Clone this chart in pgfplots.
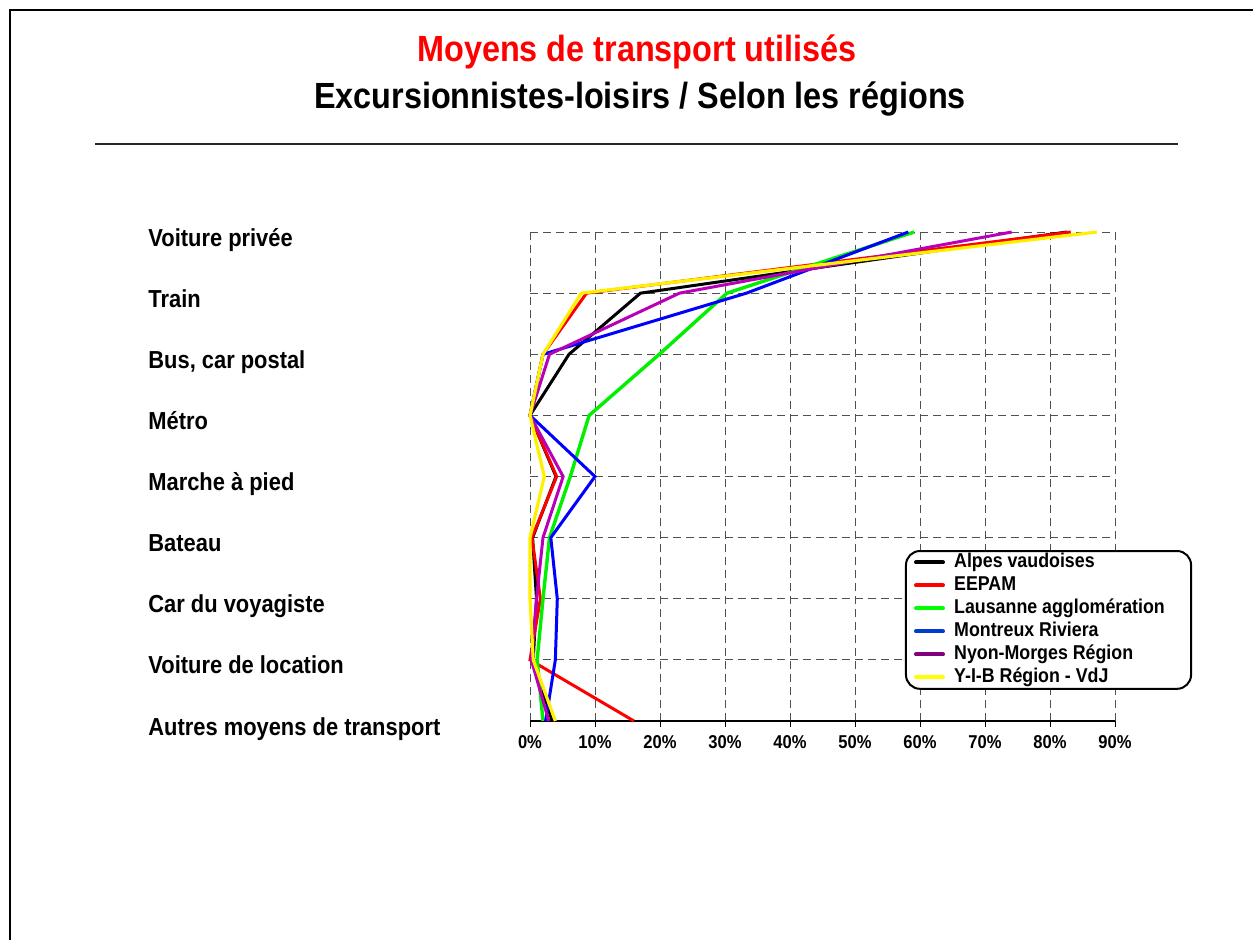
\documentclass[border=0pt]{standalone}
\usepackage{fontspec}
\setmainfont{Liberation Sans}[FakeStretch=0.89]
\usepackage{pgfplots}
\pgfplotsset{compat=1.18}
\usepackage{pgfplotstable}
\definecolor{cgreen}{RGB}{0,240,0}
\definecolor{cblue}{RGB}{0,0,255}
\definecolor{cpurple}{RGB}{185,0,185}
\definecolor{cyellow}{RGB}{255,240,0}
\definecolor{lgreen}{RGB}{0,255,0}
\definecolor{lblue}{RGB}{0,60,210}
\definecolor{lpurple}{RGB}{128,0,128}
\definecolor{lyellow}{RGB}{255,255,0}
\definecolor{gridgray}{RGB}{80,80,80}

% y: 8 = Voiture privee (top) ... 0 = Autres moyens de transport (bottom)
\pgfplotstableread{
y alpes eepam lausanne montreux nyon yib
8 82.6 83.2 59.1 58.2 74.1 87.2
7 17.0 8.7 30.3 33.3 23.0 7.9
6 6.0 2.0 19.9 2.0 3.0 2.0
5 0.0 0.0 9.1 0.0 0.0 0.0
4 4.0 4.1 6.2 10.0 5.1 2.2
3 0.4 0.3 3.0 3.2 2.0 0.0
2 1.0 1.6 2.0 4.2 1.0 0.0
1 0.5 0.0 1.1 3.9 0.2 0.5
0 3.4 16.0 2.0 2.4 2.9 3.9
}\data

\begin{document}
\begin{tikzpicture}[x=0.5pt,y=-0.5pt]
\useasboundingbox (0,0) rectangle (1253,939);
\fill[white] (0,0) rectangle (1253,939);
\draw[line width=1.25pt] (10,945) -- (10,10) -- (1260,10);
\draw[line width=0.75pt, black!85] (95,144) -- (1178,144);
\node[anchor=base, text=red, inner sep=0pt, font=\bfseries\fontsize{18.2}{20}\selectfont] at (637,61) {Moyens de transport utilisés};
\node[anchor=base, text=black, inner sep=0pt, font=\bfseries\fontsize{18.2}{20}\selectfont] at (640,108) {Excursionnistes-loisirs / Selon les régions};
\coordinate (AX) at (530,721);
\begin{axis}[
  at={(AX)}, anchor=south west,
  x=, y=,
  scale only axis, width=292.5pt, height=244.5pt,
  xmin=0, xmax=90, ymin=0, ymax=8,
  clip=false,
  axis x line*=bottom, axis y line*=left,
  x axis line style={-, black, line width=1pt},
  y axis line style={draw=none},
  xtick={0,10,...,90},
  ytick={0,...,8},
  yticklabels={Autres moyens de transport, Voiture de location, Car du voyagiste, Bateau, Marche à pied, Métro, {Bus, car postal}, Train, Voiture privée},
  yticklabel style={anchor=base west, inner sep=0pt, xshift=-188pt, yshift=-7pt, font=\bfseries\fontsize{12.3}{14}\selectfont},
  ytick style={draw=none},
  xtick style={black, line width=0.5pt},
  tick align=outside, major tick length=3pt,
  xticklabel={\pgfmathprintnumber{\tick}\%},
  /pgf/number format/assume math mode=true,
  xticklabel style={inner sep=0pt, yshift=-4pt, font=\bfseries\fontsize{9.3}{10}\selectfont},
  grid=major,
  major grid style={gridgray, line width=0.5pt, dash pattern=on 4pt off 2.5pt},
  legend style={at={(0.641,0.3497)}, anchor=north west, draw=black, line width=1pt, rounded corners=7pt, fill=white,
    font=\bfseries\fontsize{10}{11}\selectfont, inner xsep=4pt, inner ysep=0.5pt,
    nodes={inner sep=0.6pt, text height=7.2pt, text depth=2pt},
    row sep=1.1pt,
    /tikz/every odd column/.append style={column sep=4pt}},
  legend cell align=left,
  legend image code/.code={\draw[line width=2pt, line cap=round] (0pt,0pt) -- (13.5pt,0pt);},
]
\addlegendimage{black}\addlegendentry{Alpes vaudoises}
\addlegendimage{red}\addlegendentry{EEPAM}
\addlegendimage{lgreen}\addlegendentry{Lausanne agglomération\hspace{8.5pt}\mbox{}}
\addlegendimage{lblue}\addlegendentry{Montreux Riviera}
\addlegendimage{lpurple}\addlegendentry{Nyon-Morges Région}
\addlegendimage{lyellow}\addlegendentry{Y-I-B Région - VdJ}
\addplot[forget plot, black, line width=1.5pt] table[x=alpes, y=y] {\data};
\addplot[forget plot, red, line width=1.5pt] table[x=eepam, y=y] {\data};
\addplot[forget plot, cgreen, line width=1.7pt] table[x=lausanne, y=y] {\data};
\addplot[forget plot, cblue, line width=1.5pt] table[x=montreux, y=y] {\data};
\addplot[forget plot, cpurple, line width=1.5pt] table[x=nyon, y=y] {\data};
\addplot[forget plot, cyellow, line width=1.6pt] table[x=yib, y=y] {\data};
\end{axis}
\end{tikzpicture}
\end{document}
